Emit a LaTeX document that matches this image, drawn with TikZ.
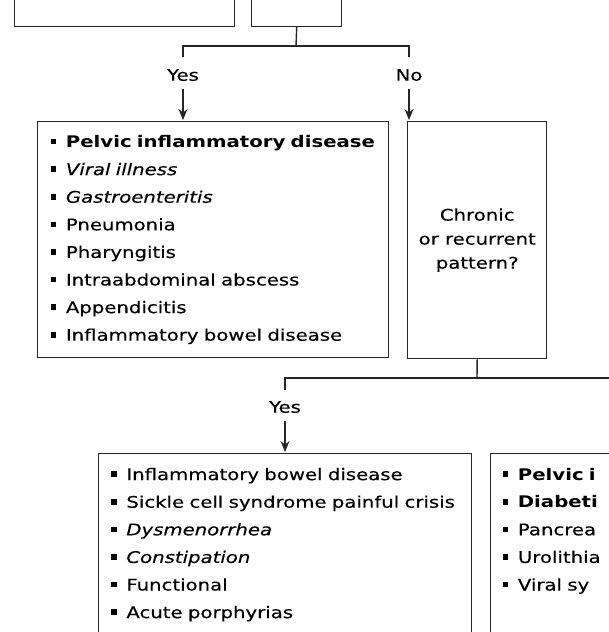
\documentclass[tikz,border=0pt]{standalone}
\usepackage{fontspec}
\setmainfont{DejaVu Sans}[FakeStretch=1.23, UprightFeatures={FakeBold=0.3}, ItalicFeatures={FakeBold=0.3}]
\usetikzlibrary{positioning, arrows.meta}
\tikzstyle{box} = [rectangle,
draw=black!85,
line width=1.4pt,
text=black]
\tikzstyle{listbox} = [box,
align=left,
anchor=north west,
font=\fontsize{16}{27.6}\selectfont]
\tikzstyle{question} = [box,
align=center,
anchor=north west,
font=\fontsize{16}{24}\selectfont]
\tikzstyle{answer} = [text=black, font=\fontsize{16}{18}\selectfont]
\tikzstyle{line} = [line width=1.4pt, draw=black!85]
\tikzstyle{arrow} = [line, -{Stealth[length=11pt, width=9pt]}, shorten <=5pt, shorten >=1pt]
\newcommand{\itm}[1]{\mbox{\rule[3.2pt]{5.6pt}{5.6pt}\hspace{9.6pt}#1}}

\begin{document}
\begin{tikzpicture}[x=1pt, y=-1pt]
\useasboundingbox (0,0) rectangle (609,632);
\clip (0,0) rectangle (609,632);

% boxes of the step above, only their lower ends show
\node (prev) [box, minimum width=220pt, minimum height=60pt, anchor=south west] at (14,27) {};
\node (ask) [box, minimum width=90pt, minimum height=60pt, anchor=south west] at (251,27) {};

\coordinate (j1) at (296,46);
\coordinate (y1top) at (183,57);
\coordinate (n1top) at (409,57);
\node (yes1) [answer] at (183,75) {Yes};
\node (no1) [answer] at (409,75) {No};

\node (dx) [listbox, text width=325pt, inner xsep=13pt, minimum height=236pt] at (37,121) {%
\itm{\textbf{Pelvic inflammatory disease}}\\
\itm{\textit{Viral illness}}\\
\itm{\textit{Gastroenteritis}}\\
\itm{Pneumonia}\\
\itm{Pharyngitis}\\
\itm{Intraabdominal abscess}\\
\itm{Appendicitis}\\
\itm{Inflammatory bowel disease}};
\node (chronic) [question, minimum width=139pt, minimum height=237pt] at (407,121) {Chronic\\or recurrent\\pattern?};

\coordinate (j2) at (477,378);
\coordinate (y2top) at (285,390);
\coordinate (nobr) at (640,378);
\node (yes2) [answer] at (285,407) {Yes};

\node (recur) [listbox, text width=348pt, inner xsep=12.5pt, minimum height=182pt] at (98,453) {%
\itm{Inflammatory bowel disease}\\
\itm{Sickle cell syndrome painful crisis}\\
\itm{\textit{Dysmenorrhea}}\\
\itm{\textit{Constipation}}\\
\itm{Functional}\\
\itm{Acute porphyrias}};
\node (other) [listbox, text width=200pt, inner xsep=12pt, minimum height=182pt] at (490,453) {%
\itm{\textbf{Pelvic i}}\\
\itm{\textbf{Diabeti}}\\
\itm{Pancrea}\\
\itm{Urolithia}\\
\itm{Viral sy}\\
\vphantom{Ap}};

\draw[line] (ask.south) -- (j1);
\draw[line] (y1top) |- (j1) -| (n1top);
\draw[arrow] (yes1.south) -- (yes1.south |- dx.north);
\draw[arrow] (no1.south) -- (no1.south |- chronic.north);
\draw[line] (chronic.south) -- (j2);
\draw[line] (y2top) |- (j2) -- (nobr);
\draw[arrow] (yes2.south) -- (yes2.south |- recur.north);
\end{tikzpicture}
\end{document}
